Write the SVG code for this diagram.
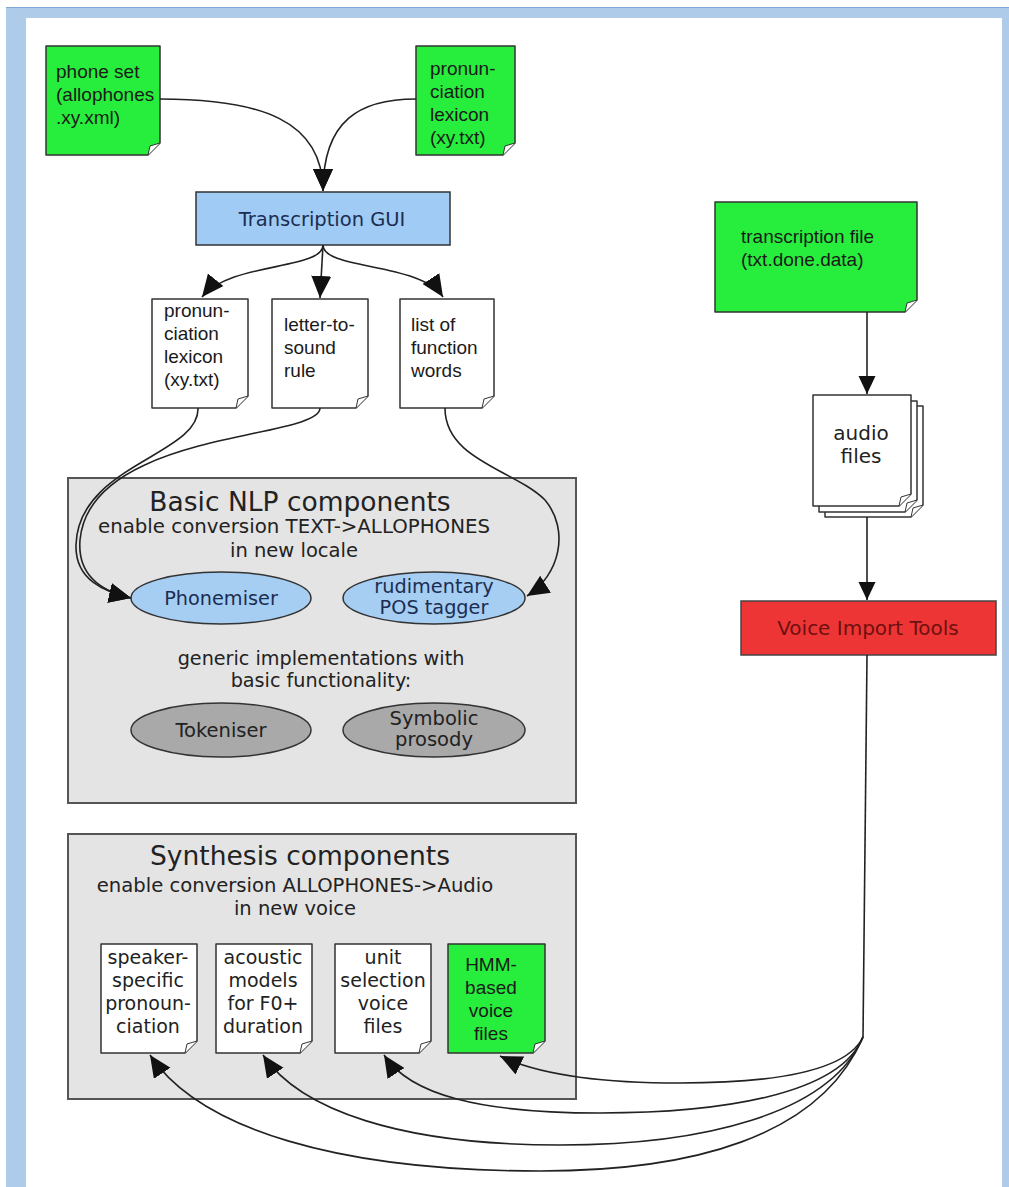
<svg xmlns="http://www.w3.org/2000/svg" width="1009" height="1187" viewBox="0 0 1009 1187">
<style>
.doc{stroke:#333;stroke-width:1.5;stroke-linejoin:round}
.w{fill:#fff}
.g{fill:#27ee3c}
.fold{fill:#fff;stroke:#333;stroke-width:1}
.ar{font-family:"Liberation Sans",Arial,sans-serif;font-size:19px;fill:#1a1a1a}
.dj{font-family:"DejaVu Sans",Verdana,sans-serif;fill:#222}
.box{fill:#e4e4e4;stroke:#555;stroke-width:2}
.eb{fill:#a6cdf2;stroke:#333;stroke-width:1.5}
.eg{fill:#a9a9a9;stroke:#333;stroke-width:1.5}
.edge{fill:none;stroke:#222;stroke-width:1.6}
</style>
<defs>
<marker id="ah" markerUnits="userSpaceOnUse" markerWidth="24" markerHeight="22" refX="22" refY="10" orient="auto">
<path d="M0,0 L22,10 L0,20 Z" fill="#111"/>
</marker>
<marker id="as" markerUnits="userSpaceOnUse" markerWidth="20" markerHeight="18" refX="18" refY="8.5" orient="auto">
<path d="M0,0 L18,8.5 L0,17 Z" fill="#111"/>
</marker>
</defs>
<!-- frame -->
<rect x="6" y="7" width="1003" height="1180" fill="#aecbea"/>
<line x1="6" y1="7.5" x2="1009" y2="7.5" stroke="#7fa8d8" stroke-width="1"/>
<rect x="26" y="18" width="976" height="1169" fill="#fff"/>

<g id="nlp-box">
<rect class="box" x="68" y="478" width="508" height="325"/>
<text class="dj" x="300" y="511" font-size="26.5" text-anchor="middle">Basic NLP components</text>
<text class="dj" x="294" y="533" font-size="19.8" text-anchor="middle">enable conversion TEXT-&gt;ALLOPHONES</text>
<text class="dj" x="294" y="557" font-size="19.5" text-anchor="middle">in new locale</text>
<text class="dj" x="321" y="665" font-size="19.2" text-anchor="middle">generic implementations with</text>
<text class="dj" x="321" y="687" font-size="19.2" text-anchor="middle">basic functionality:</text>
</g>
<g id="synth-box">
<rect class="box" x="68" y="834" width="508" height="265"/>
<text class="dj" x="300" y="865" font-size="26.5" text-anchor="middle">Synthesis components</text>
<text class="dj" x="295" y="892" font-size="19.6" text-anchor="middle">enable conversion ALLOPHONES-&gt;Audio</text>
<text class="dj" x="295" y="915" font-size="19.5" text-anchor="middle">in new voice</text>
</g>

<g id="phone-set">
<path class="doc g" d="M46 46 H160 V143 L148 155 H46 Z"/>
<path class="fold" d="M148 155 L150 146 L160 143"/>
<text class="ar" x="56" y="78">phone set</text>
<text class="ar" x="56" y="101">(allophones</text>
<text class="ar" x="56" y="124">.xy.xml)</text>
</g>
<g id="top-lexicon">
<path class="doc g" d="M416 46 H515 V143 L503 155 H416 Z"/>
<path class="fold" d="M503 155 L505 146 L515 143"/>
<text class="ar" x="430" y="75">pronun-</text>
<text class="ar" x="430" y="98">ciation</text>
<text class="ar" x="430" y="121">lexicon</text>
<text class="ar" x="430" y="144">(xy.txt)</text>
</g>
<g id="transcription-gui">
<rect x="196" y="192" width="254" height="53" fill="#a0cbf5" stroke="#333" stroke-width="1.5"/>
<text class="dj" x="322" y="226" font-size="19.5" text-anchor="middle" style="fill:#1c2d52">Transcription GUI</text>
</g>
<g id="mid-lexicon">
<path class="doc w" d="M152 299 H248 V396 L236 408 H152 Z"/>
<path class="fold" d="M236 408 L238 399 L248 396"/>
<text class="ar" x="164" y="317">pronun-</text>
<text class="ar" x="164" y="340">ciation</text>
<text class="ar" x="164" y="363">lexicon</text>
<text class="ar" x="164" y="386">(xy.txt)</text>
</g>
<g id="letter-to-sound">
<path class="doc w" d="M272 299 H368 V396 L356 408 H272 Z"/>
<path class="fold" d="M356 408 L358 399 L368 396"/>
<text class="ar" x="284" y="331">letter-to-</text>
<text class="ar" x="284" y="354">sound</text>
<text class="ar" x="284" y="377">rule</text>
</g>
<g id="function-words">
<path class="doc w" d="M400 299 H494 V396 L482 408 H400 Z"/>
<path class="fold" d="M482 408 L484 399 L494 396"/>
<text class="ar" x="411" y="331">list of</text>
<text class="ar" x="411" y="354">function</text>
<text class="ar" x="411" y="377">words</text>
</g>
<g id="transcription-file">
<path class="doc g" d="M715 202 H917 V300 L905 312 H715 Z"/>
<path class="fold" d="M905 312 L907 303 L917 300"/>
<text class="ar" x="741" y="243">transcription file</text>
<text class="ar" x="741" y="266">(txt.done.data)</text>
</g>
<g id="audio-files">
<path class="doc w" d="M825 406 H923 V505 L911 517 H825 Z"/>
<path class="fold" d="M911 517 L913 508 L923 505"/>
<path class="doc w" d="M819 401 H917 V500 L905 512 H819 Z"/>
<path class="fold" d="M905 512 L907 503 L917 500"/>
<path class="doc w" d="M813 395 H911 V494 L899 506 H813 Z"/>
<path class="fold" d="M899 506 L901 497 L911 494"/>
<text class="dj" x="861" y="440" font-size="20" text-anchor="middle">audio</text>
<text class="dj" x="861" y="463" font-size="20" text-anchor="middle">files</text>
</g>
<g id="voice-import-tools">
<rect x="741" y="601" width="255" height="54" fill="#ee3535" stroke="#444" stroke-width="1.5"/>
<text class="dj" x="868" y="635" font-size="20" text-anchor="middle" style="fill:#6e1010">Voice Import Tools</text>
</g>
<g id="phonemiser">
<ellipse class="eb" cx="221" cy="598" rx="90" ry="26"/>
<text class="dj" x="221" y="605" font-size="19.3" text-anchor="middle" style="fill:#1c2d52">Phonemiser</text>
</g>
<g id="pos-tagger">
<ellipse class="eb" cx="434" cy="598" rx="91" ry="26"/>
<text class="dj" x="434" y="593" font-size="19.3" text-anchor="middle" style="fill:#1c2d52">rudimentary</text>
<text class="dj" x="434" y="614" font-size="19.3" text-anchor="middle" style="fill:#1c2d52">POS tagger</text>
</g>
<g id="tokeniser">
<ellipse class="eg" cx="221" cy="730" rx="90" ry="27"/>
<text class="dj" x="221" y="737" font-size="19.5" text-anchor="middle">Tokeniser</text>
</g>
<g id="symbolic-prosody">
<ellipse class="eg" cx="434" cy="730" rx="91" ry="27"/>
<text class="dj" x="434" y="725" font-size="19.5" text-anchor="middle">Symbolic</text>
<text class="dj" x="434" y="746" font-size="19.5" text-anchor="middle">prosody</text>
</g>
<g id="speaker-pron">
<path class="doc w" d="M101 944 H197 V1041 L185 1053 H101 Z"/>
<path class="fold" d="M185 1053 L187 1044 L197 1041"/>
<text class="dj" x="148" y="964" font-size="19" text-anchor="middle">speaker-</text>
<text class="dj" x="148" y="987" font-size="19" text-anchor="middle">specific</text>
<text class="dj" x="148" y="1010" font-size="19" text-anchor="middle">pronoun-</text>
<text class="dj" x="148" y="1033" font-size="19" text-anchor="middle">ciation</text>
</g>
<g id="acoustic-models">
<path class="doc w" d="M216 944 H312 V1041 L300 1053 H216 Z"/>
<path class="fold" d="M300 1053 L302 1044 L312 1041"/>
<text class="dj" x="263" y="964" font-size="19" text-anchor="middle">acoustic</text>
<text class="dj" x="263" y="987" font-size="19" text-anchor="middle">models</text>
<text class="dj" x="263" y="1010" font-size="19" text-anchor="middle">for F0+</text>
<text class="dj" x="263" y="1033" font-size="19" text-anchor="middle">duration</text>
</g>
<g id="unit-selection">
<path class="doc w" d="M335 944 H431 V1041 L419 1053 H335 Z"/>
<path class="fold" d="M419 1053 L421 1044 L431 1041"/>
<text class="dj" x="383" y="964" font-size="19" text-anchor="middle">unit</text>
<text class="dj" x="383" y="987" font-size="19" text-anchor="middle">selection</text>
<text class="dj" x="383" y="1010" font-size="19" text-anchor="middle">voice</text>
<text class="dj" x="383" y="1033" font-size="19" text-anchor="middle">files</text>
</g>
<g id="hmm-voice">
<path class="doc g" d="M448 944 H545 V1041 L533 1053 H448 Z"/>
<path class="fold" d="M533 1053 L535 1044 L545 1041"/>
<text class="ar" x="491" y="971" text-anchor="middle">HMM-</text>
<text class="ar" x="491" y="994" text-anchor="middle">based</text>
<text class="ar" x="491" y="1017" text-anchor="middle">voice</text>
<text class="ar" x="491" y="1040" text-anchor="middle">files</text>
</g>

<g id="connectors">
<path class="edge" d="M160 99 C 260 99 323 120 323 191" marker-end="url(#ah)"/>
<path class="edge" d="M416 99 C 360 99 323 120 323 191" marker-end="url(#ah)"/>
<path class="edge" d="M323 245 C 323 270 230 262 202 297" marker-end="url(#ah)"/>
<path class="edge" d="M323 245 L320 298" marker-end="url(#ah)"/>
<path class="edge" d="M323 245 C 323 270 420 262 443 297" marker-end="url(#ah)"/>
<path class="edge" d="M198 408 C 200 455 78 465 76 545 C 75 580 105 592 131 598" marker-end="url(#ah)"/>
<path class="edge" d="M320 408 C 320 440 90 430 80 540 C 77 578 105 592 131 598" marker-end="url(#ah)"/>
<path class="edge" d="M445 408 C 445 460 515 470 545 500 C 570 530 560 575 527 596" marker-end="url(#ah)"/>
<path class="edge" d="M867 312 L867 394" marker-end="url(#as)"/>
<path class="edge" d="M867 517 L867 600" marker-end="url(#as)"/>
<path class="edge" d="M867 655 L863 1037"/>
<path class="edge" d="M863 1037 C 845 1075 760 1083 680 1083 C 600 1083 540 1075 500 1056" marker-end="url(#ah)"/>
<path class="edge" d="M863 1037 C 840 1095 720 1113 600 1113 C 480 1113 410 1095 384 1055" marker-end="url(#ah)"/>
<path class="edge" d="M863 1037 C 830 1115 700 1145 560 1145 C 400 1145 300 1110 263 1055" marker-end="url(#ah)"/>
<path class="edge" d="M863 1037 C 820 1138 690 1171 540 1171 C 340 1171 200 1130 150 1055" marker-end="url(#ah)"/>
</g>
</svg>
